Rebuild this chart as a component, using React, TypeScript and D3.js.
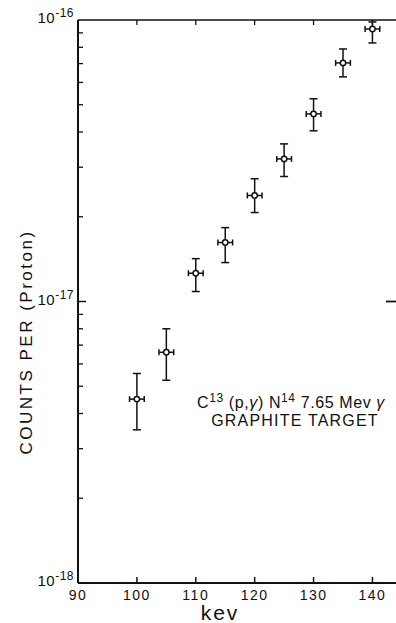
import React from 'react';
import * as d3 from 'd3';

// beam energy (keV) and measured yield
const kev = [100, 105, 110, 115, 120, 125, 130, 135, 140];
const counts = [4.5e-18, 6.6e-18, 1.26e-17, 1.62e-17, 2.38e-17, 3.21e-17, 4.64e-17, 7.04e-17, 9.29e-17];
const countsLow = [3.5e-18, 5.25e-18, 1.085e-17, 1.375e-17, 2.07e-17, 2.78e-17, 4.04e-17, 6.28e-17, 8.29e-17];
const countsHigh = [5.55e-18, 8.0e-18, 1.42e-17, 1.83e-17, 2.73e-17, 3.63e-17, 5.25e-17, 7.89e-17, 9.84e-17];
const kevErr = 1.25;

const xTicks = [90, 100, 110, 120, 130, 140];
const yMajor = [1e-18, 1e-17, 1e-16];
const yMajorExp = ['-18', '-17', '-16'];

const W = 396;
const H = 623;
const left = 78;
const top = 20;
const bottom = 583;

const font = "'Liberation Sans', Arial, sans-serif";

const App = () => {
  const x = d3.scaleLinear().domain([90, 144]).range([left, W]);
  const y = d3.scaleLog().domain([1e-18, 1e-16]).range([bottom, top]);

  // minor ticks 2..9 in each decade
  const minor: number[] = [];
  [1e-18, 1e-17].forEach((d) => {
    for (let m = 2; m <= 9; m++) minor.push(d * m);
  });

  return (
    <svg width={W} height={H} style={{ position: 'absolute', left: 0, top: 0, background: '#fff' }}>
      <g stroke="#111" fill="none">
        {/* frame */}
        <line x1={left} y1={top} x2={W} y2={top} strokeWidth={1.6} />
        <line x1={left} y1={top} x2={left} y2={bottom} strokeWidth={2} />
        <line x1={left} y1={bottom} x2={W} y2={bottom} strokeWidth={2} />

        {xTicks.filter((t) => t > 90).map((t) => (
          <g key={t}>
            <line x1={x(t)} x2={x(t)} y1={bottom} y2={bottom - 6} strokeWidth={1.5} />
            <line x1={x(t)} x2={x(t)} y1={top} y2={top + 5} strokeWidth={1.3} />
          </g>
        ))}

        {minor.map((v) => (
          <line key={v} x1={left} x2={left + 5} y1={y(v)} y2={y(v)} strokeWidth={1.3} />
        ))}
        <line x1={left} x2={left + 8} y1={y(1e-17)} y2={y(1e-17)} strokeWidth={1.5} />
        <line x1={W - 10} x2={W} y1={y(1e-17)} y2={y(1e-17)} strokeWidth={1.8} />

        {/* error bars */}
        {kev.map((k, i) => {
          const cx = x(k);
          const cy = y(counts[i]);
          const yl = y(countsLow[i]);
          const yh = y(countsHigh[i]);
          const xl = x(k - kevErr);
          const xh = x(k + kevErr);
          return (
            <g key={k} strokeWidth={1.5}>
              <line x1={cx} x2={cx} y1={yh} y2={yl} />
              <line x1={cx - 4} x2={cx + 4} y1={yh} y2={yh} />
              <line x1={cx - 4} x2={cx + 4} y1={yl} y2={yl} />
              <line x1={xl} x2={xh} y1={cy} y2={cy} />
              <line x1={xl} x2={xl} y1={cy - 3} y2={cy + 3} />
              <line x1={xh} x2={xh} y1={cy - 3} y2={cy + 3} />
              <circle cx={cx} cy={cy} r={2.7} fill="#fff" />
            </g>
          );
        })}
      </g>

      <g fill="#111" fontFamily={font}>
        {xTicks.map((t) => (
          <text key={t} x={x(t)} y={600} fontSize={14} letterSpacing={1.5} textAnchor="middle">
            {t}
          </text>
        ))}
        {yMajor.map((v, i) => (
          <text key={v} x={74} y={y(v) + 3} fontSize={15} letterSpacing={0.5} textAnchor="end">
            10<tspan fontSize={12} dy={-6}>{yMajorExp[i]}</tspan>
          </text>
        ))}
        <text x={220} y={620} fontSize={21} letterSpacing={2} textAnchor="middle">
          kev
        </text>
        <text
          transform={`translate(32,${342}) rotate(-90)`}
          fontSize={17}
          letterSpacing={2.5}
          textAnchor="middle"
        >
          COUNTS PER (Proton)
        </text>
        <text x={291} y={408} fontSize={16} letterSpacing={0.6} textAnchor="middle">
          C<tspan fontSize={12} dy={-6}>13</tspan>
          <tspan dy={6}> (p,</tspan>
          <tspan fontStyle="italic">γ</tspan>
          <tspan>) N</tspan>
          <tspan fontSize={12} dy={-6}>14</tspan>
          <tspan dy={6}> 7.65 Mev </tspan>
          <tspan fontStyle="italic">γ</tspan>
        </text>
        <text x={295} y={426} fontSize={16} letterSpacing={1.2} textAnchor="middle">
          GRAPHITE TARGET
        </text>
      </g>
    </svg>
  );
};

export default App;
